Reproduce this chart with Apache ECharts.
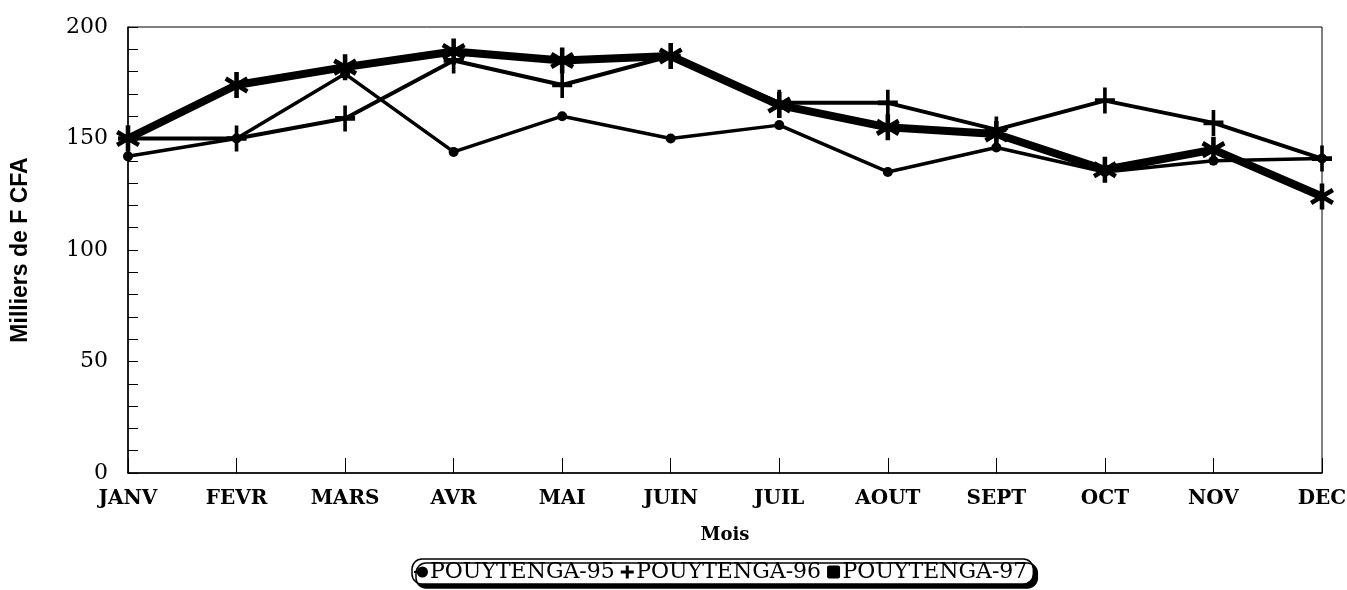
<!DOCTYPE html>
<html>
<head>
<meta charset="utf-8">
<title>POUYTENGA</title>
<script src="https://cdn.jsdelivr.net/npm/echarts@6/dist/echarts.min.js"></script>
<style>
  html, body { margin: 0; padding: 0; background: #fff; }
  #chart { width: 1347px; height: 590px; }
</style>
</head>
<body>
<div id="chart"></div>
<script>
// Monthly values, thousands of F CFA
const months = ['JANV', 'FEVR', 'MARS', 'AVR', 'MAI', 'JUIN', 'JUIL', 'AOUT', 'SEPT', 'OCT', 'NOV', 'DEC'];
const pouytenga95 = [142, 150, 179, 144, 160, 150, 156, 135, 146, 135, 140, 141];
const pouytenga96 = [150, 150, 159, 185, 174, 187, 166, 166, 154, 167, 157, 141];
const pouytenga97 = [150, 174, 182, 189, 185, 187, 165, 155, 152, 136, 145, 124];
const seriesNames = ['POUYTENGA-95', 'POUYTENGA-96', 'POUYTENGA-97'];
const yTicks = [0, 50, 100, 150, 200];

// Marker shapes
const plusPath = 'path://M9,0L13,0L13,22L9,22Z M0,9L22,9L22,13L0,13Z';
const starPath = 'path://M9,0L13,0L13,22L9,22Z ' +
  'M2.47,18.23L0.47,14.77L19.53,3.77L21.53,7.23Z ' +
  'M21.53,14.77L19.53,18.23L0.47,7.23L2.47,3.77Z';
const legendDot = 'path://M0,6L5,6L5,8L0,8Z M9,1A6,6 0 1,1 9,13A6,6 0 1,1 9,1Z';
const legendPlus = 'path://M5,0L8,0L8,13L5,13Z M0,5L13,5L13,8L0,8Z';
const legendSquare = 'path://M2,0L11,0Q13,0 13,2L13,11Q13,13 11,13L2,13Q0,13 0,11L0,2Q0,0 2,0Z';

const serif = "'DejaVu Serif', 'Liberation Serif', serif";

const chart = echarts.init(document.getElementById('chart'), null, { renderer: 'canvas' });

chart.setOption({
  animation: false,
  backgroundColor: '#ffffff',
  grid: {
    left: 128, right: 25, top: 27, bottom: 117,
    show: true, borderColor: '#000', borderWidth: 1,
    containLabel: false,
    outerBoundsMode: 'none'
  },
  legend: {
    left: 412, top: 559,
    data: [
      { name: seriesNames[0], icon: legendDot },
      { name: seriesNames[1], icon: legendPlus },
      { name: seriesNames[2], icon: legendSquare }
    ],
    itemWidth: 14, itemHeight: 13, itemGap: 6,
    padding: [2, 6, 1, 2],
    borderColor: '#000', borderWidth: 1.5, borderRadius: 10,
    backgroundColor: '#fff',
    shadowColor: '#000', shadowBlur: 0, shadowOffsetX: 4, shadowOffsetY: 4,
    textStyle: { fontFamily: serif, fontSize: 22, color: '#000', padding: [0, 0, 0, -3] },
    itemStyle: { color: '#000' }
  },
  xAxis: {
    type: 'category',
    data: months,
    boundaryGap: false,
    name: 'Mois',
    nameLocation: 'middle',
    nameGap: 53,
    nameTextStyle: { fontFamily: serif, fontSize: 18, fontWeight: 'bold', color: '#000' },
    axisLine: { lineStyle: { color: '#000', width: 1.5 } },
    axisTick: { show: true, inside: true, length: 15, lineStyle: { color: '#000', width: 1 } },
    axisLabel: { fontFamily: serif, fontSize: 20, fontWeight: 'bold', color: '#000', margin: 16 },
    splitLine: { show: false }
  },
  yAxis: {
    type: 'value',
    min: yTicks[0], max: yTicks[yTicks.length - 1], interval: 50,
    name: 'Milliers de F CFA',
    nameLocation: 'middle',
    nameGap: 96,
    nameRotate: 90,
    nameTextStyle: { fontFamily: "'Liberation Sans', Arial, sans-serif", fontSize: 23, fontWeight: 'bold', color: '#000' },
    axisLine: { show: true, lineStyle: { color: '#000', width: 1.5 } },
    axisTick: { show: true, inside: true, length: 10, lineStyle: { color: '#000' } },
    minorTick: { show: true, splitNumber: 5, length: 10, lineStyle: { color: '#000' } },
    axisLabel: { fontFamily: serif, fontSize: 22, color: '#000', margin: 20 },
    splitLine: { show: false }
  },
  series: [
    {
      name: seriesNames[0], type: 'line', data: pouytenga95,
      symbol: 'circle', symbolSize: 10,
      lineStyle: { color: '#000', width: 3.5 },
      itemStyle: { color: '#000' },
      z: 2
    },
    {
      name: seriesNames[1], type: 'line', data: pouytenga96,
      symbol: plusPath, symbolSize: [20, 26],
      lineStyle: { color: '#000', width: 4 },
      itemStyle: { color: '#000' },
      z: 3
    },
    {
      name: seriesNames[2], type: 'line', data: pouytenga97,
      symbol: starPath, symbolSize: [24, 26],
      lineStyle: { color: '#000', width: 8 },
      itemStyle: { color: '#000' },
      z: 4
    }
  ]
});
</script>
</body>
</html>
